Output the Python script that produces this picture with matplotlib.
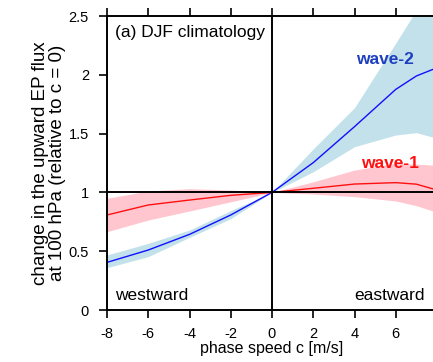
import matplotlib as mtl
mtl.use('Agg')
import matplotlib.pyplot as plt
import numpy as np

plt.rcParams['font.family'] = ['Liberation Sans', 'DejaVu Sans']
plt.rcParams['axes.unicode_minus'] = False

### DATA ###
c = [-8, -6, -4, -2, 0, 2, 4, 6, 7, 8]

# wave-2 (blue)
w2_mean = [0.405, 0.51, 0.643, 0.808, 1.0, 1.253, 1.559, 1.876, 1.99, 2.06]
w2_lo = [0.36, 0.454, 0.618, 0.777, 1.0, 1.176, 1.389, 1.488, 1.508, 1.46]
w2_hi = [0.468, 0.567, 0.68, 0.845, 1.0, 1.37, 1.72, 2.27, 2.55, 2.8]

# wave-1 (red)
w1_mean = [0.808, 0.893, 0.935, 0.975, 1.0, 1.035, 1.071, 1.083, 1.07, 1.02]
w1_lo = [0.666, 0.765, 0.842, 0.92, 1.0, 0.986, 0.964, 0.927, 0.887, 0.83]
w1_hi = [0.95, 1.012, 1.032, 1.02, 1.0, 1.09, 1.19, 1.247, 1.24, 1.23]

xticks = [-8, -6, -4, -2, 0, 2, 4, 6]
yticks = [0, 0.5, 1, 1.5, 2, 2.5]
ytick_labels = ['0', '0.5', '1', '1.5', '2', '2.5']

fig = plt.figure(figsize=(4.33, 3.62), dpi=100)
ax = fig.add_axes([107/433, 1-310/362, 330/433, 294/362])

ax.fill_between(c, w2_lo, w2_hi, color='#c2e1ea', lw=0)
ax.fill_between(c, w1_lo, w1_hi, color='#ffc6cf', lw=0)
ax.plot(c, w2_mean, color='#1010ff', lw=1)
ax.plot(c, w1_mean, color='#ff1010', lw=1)

ax.axhline(1, color='black', lw=1.4)
ax.axvline(0, color='black', lw=1.4)

ax.set_xlim(-8, 8)
ax.set_ylim(0, 2.5)
ax.set_xticks(xticks)
ax.set_yticks(yticks)
ax.set_yticklabels(ytick_labels)
ax.tick_params(direction='out', length=6, width=1.2, labelsize=10.5, top=True, right=False)
ax.tick_params(axis='y', pad=7)
ax.tick_params(axis='x', pad=6)
for s in ax.spines.values():
    s.set_linewidth(1.4)

ax.set_xlabel('phase speed c [m/s]', fontsize=11.5, labelpad=0)
ax.set_ylabel('change in the upward EP flux\nat 100 hPa (relative to c = 0)', fontsize=13.5, linespacing=1.0, labelpad=2)

ax.text(-7.6, 2.36, '(a) DJF climatology', fontsize=12.5, va='center')
ax.text(6.9, 2.13, 'wave-2', fontsize=12.5, fontweight='bold', color='#1e40c0', ha='right', va='center')
ax.text(7.1, 1.25, 'wave-1', fontsize=12.5, fontweight='bold', color='#ff1010', ha='right', va='center')
ax.text(-7.6, 0.12, 'westward', fontsize=12.5, va='center')
ax.text(7.4, 0.12, 'eastward', fontsize=12.5, va='center', ha='right')

plt.savefig('out.png', dpi=100)
